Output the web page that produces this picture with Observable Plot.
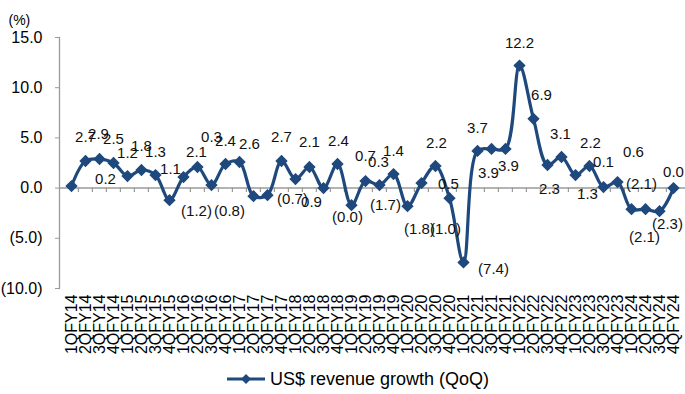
<!DOCTYPE html>
<html>
<head>
<meta charset="utf-8">
<script src="https://cdn.jsdelivr.net/npm/d3@7"></script>
<script src="https://cdn.jsdelivr.net/npm/@observablehq/plot@0.6"></script>
<style>
  html, body { margin: 0; padding: 0; background: #fff; }
  #chart { width: 685px; font-family: "Liberation Sans", Arial, sans-serif; }
  .legend { height: 30px; display: flex; align-items: center; justify-content: flex-start;
            font-size: 18px; color: #000; padding-left: 226px; }
  .legend svg { margin-right: 4px; }
</style>
</head>
<body>
<div id="chart"></div>
<script>
// Quarters FY14 to FY24
const years = ["14", "15", "16", "17", "18", "19", "20", "21", "22", "23", "24"];
const quarters = years.flatMap(y => [1, 2, 3, 4].map(q => `${q}QFY${y}`));

// US$ revenue growth, quarter on quarter (%)
const growth = [
  0.2, 2.7, 2.9, 2.5, 1.2, 1.8, 1.3, -1.2, 1.1, 2.1,
  0.3, 2.4, 2.6, -0.8, -0.7, 2.7, 0.9, 2.1, -0.0, 2.4,
  -1.7, 0.7, 0.3, 1.4, -1.8, 0.5, 2.2, -1.0, -7.4, 3.7,
  3.9, 3.9, 12.2, 6.9, 2.3, 3.1, 1.3, 2.2, 0.1, 0.6,
  -2.1, -2.1, -2.3, 0.0
];

const yTicks = [-10, -5, 0, 5, 10, 15];
const seriesName = "US$ revenue growth (QoQ)";

// Offsets (px) of each data label from its point
const labelOffsets = [
  [34, -7], [0, -24], [-1, -25], [0, -24], [0, -23], [0, -24], [0, -23], [27, 11], [-13, -8], [-1, -15],
  [0, -48], [0, -23], [10, -18], [-24, 15], [25, 4], [0, -24], [16, 23], [0, -25], [24, 29], [1, -23],
  [34, 0], [0, -25], [-1, -23], [0, -23], [12, 23], [27, 1], [1, -23], [-4, 31], [30, 7], [0, -23],
  [-3, 24], [3, 17], [0, -22], [8, -24], [2, 24], [-1, -23], [12, 19], [1, -23], [0, -25], [16, -30],
  [10, -25], [-1, 28], [8, 13], [0, -16]
];

const fmt = v => (v < 0 || Object.is(v, -0)) ? `(${Math.abs(v).toFixed(1)})` : v.toFixed(1);

const data = quarters.map((q, i) => ({quarter: q, value: growth[i]}));

const blue = "#1F497D";
const grey = "#9a9a9a";
const W = 685, H = 364, mL = 59, mR = 0, mT = 37, mB = 76;
const step = (W - mL - mR) / quarters.length;

const labelMarks = data.map((d, i) => Plot.text([d], {
  x: "quarter", y: "value", text: r => fmt(r.value),
  dx: labelOffsets[i][0], dy: labelOffsets[i][1],
  fontSize: 15, fill: "#111"
}));

const chart = Plot.plot({
  width: W, height: H,
  marginLeft: mL, marginRight: mR, marginTop: mT, marginBottom: mB,
  style: {fontFamily: "'Liberation Sans', Arial, sans-serif", background: "#fff", color: "#000"},
  x: {type: "point", domain: quarters, padding: 0.5},
  y: {domain: [-10, 15]},
  marks: [
    Plot.frame({anchor: "left", stroke: grey, strokeWidth: 1.3}),
    Plot.axisY({ticks: yTicks, tickSize: 4, tickPadding: 13, tickFormat: fmt,
                stroke: grey, fill: "#000", fontSize: 16, label: null}),
    Plot.axisX({tickRotate: -90, tickSize: 0, tickPadding: 6, fontSize: 16, fill: "#000", label: null}),
    Plot.ruleY([0], {stroke: grey, strokeWidth: 1.5}),
    Plot.ruleX(quarters.slice(1), {x: d => d, y1: 0, y2: -0.45, dx: -step / 2, stroke: grey, strokeWidth: 1.2}),
    Plot.line(data, {x: "quarter", y: "value", stroke: blue, strokeWidth: 3.2, curve: "catmull-rom"}),
    Plot.dot(data, {x: "quarter", y: "value", symbol: "diamond2", r: 4.6, fill: blue, stroke: blue}),
    ...labelMarks,
    Plot.text(["(%)"], {frameAnchor: "top-left", text: d => d, dx: -51, dy: -22,
                        textAnchor: "start", fontSize: 14, fill: "#000"})
  ]
});

const root = document.getElementById("chart");
root.append(chart);

// Legend below the chart
const legend = document.createElement("div");
legend.className = "legend";
legend.innerHTML = `<svg width="40" height="12" viewBox="0 0 40 12">
  <line x1="1" y1="6" x2="39" y2="6" stroke="${blue}" stroke-width="3.2"/>
  <path d="M20 1 L25 6 L20 11 L15 6 Z" fill="${blue}"/></svg><span></span>`;
legend.querySelector("span").textContent = seriesName;
root.append(legend);
</script>
</body>
</html>
